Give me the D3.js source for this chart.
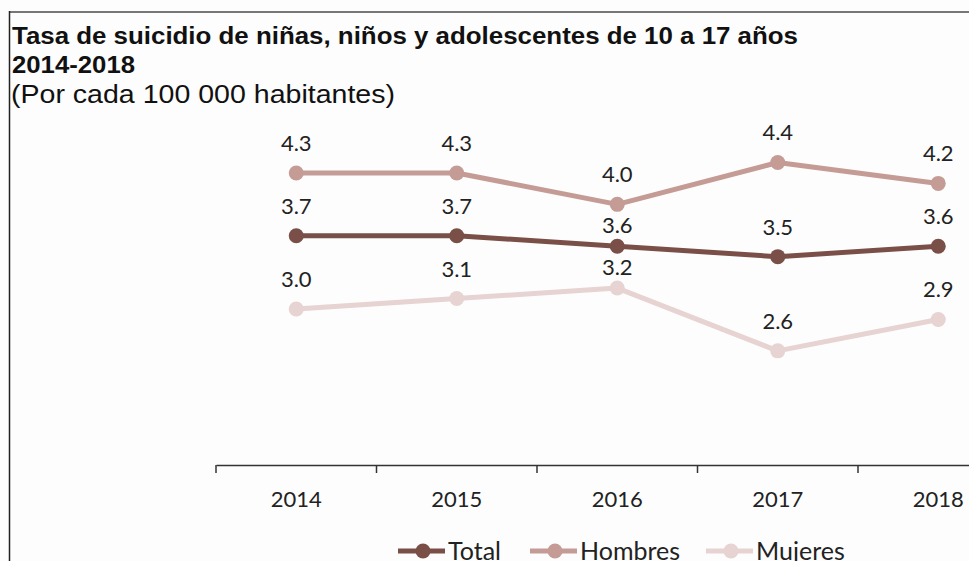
<!DOCTYPE html>
<html>
<head>
<meta charset="utf-8">
<script src="https://cdn.jsdelivr.net/npm/d3@7/dist/d3.min.js"></script>
<style>
  html, body { margin: 0; padding: 0; background: #fdfdfd; overflow: hidden; }
  svg { display: block; }
</style>
</head>
<body>
<script>
// Suicide rate among children and adolescents aged 10-17, per 100 000 inhabitants
const years = ["2014", "2015", "2016", "2017", "2018"];
const seriesNames = ["Total", "Hombres", "Mujeres"];
const totalValues = [3.7, 3.7, 3.6, 3.5, 3.6];
const hombresValues = [4.3, 4.3, 4.0, 4.4, 4.2];
const mujeresValues = [3.0, 3.1, 3.2, 2.6, 2.9];
const seriesColors = ["#7a4f48", "#c49c95", "#e6d3d2"];

const series = [
  { name: seriesNames[1], values: hombresValues, color: seriesColors[1] },
  { name: seriesNames[0], values: totalValues, color: seriesColors[0] },
  { name: seriesNames[2], values: mujeresValues, color: seriesColors[2] }
];

// labels that sit closer to their marker to keep clear of the line above
const nudgedLabels = { "Total|2016": 9, "Mujeres|2016": 9 };

const W = 969, H = 561;
const svg = d3.select("body").append("svg").attr("width", W).attr("height", H);

// frame lines
svg.append("line").attr("x1", 9).attr("x2", W).attr("y1", 12).attr("y2", 12)
  .attr("stroke", "#777").attr("stroke-width", 2);
svg.append("line").attr("x1", 9.5).attr("x2", 9.5).attr("y1", 11).attr("y2", H)
  .attr("stroke", "#222").attr("stroke-width", 1.5);

// titles
const titleFont = "'Liberation Sans', Arial, sans-serif";
svg.append("text").attr("x", 12).attr("y", 43.5)
  .attr("font-family", titleFont).attr("font-weight", "bold").attr("font-size", 23)
  .attr("textLength", 786).attr("lengthAdjust", "spacingAndGlyphs")
  .attr("fill", "#111").text("Tasa de suicidio de niñas, niños y adolescentes de 10 a 17 años");
svg.append("text").attr("x", 12).attr("y", 73)
  .attr("font-family", titleFont).attr("font-weight", "bold").attr("font-size", 23)
  .attr("textLength", 123).attr("lengthAdjust", "spacingAndGlyphs")
  .attr("fill", "#111").text("2014-2018");
svg.append("text").attr("x", 11).attr("y", 102.5)
  .attr("font-family", titleFont).attr("font-size", 26)
  .attr("textLength", 384).attr("lengthAdjust", "spacingAndGlyphs")
  .attr("fill", "#111").text("(Por cada 100 000 habitantes)");

// scales
const x = d3.scaleBand().domain(years).range([216, 216 + 160.5 * years.length]).padding(0);
const y = d3.scaleLinear().domain([1.5, 4.5]).range([466, 152]);
const cx = d => x(d) + x.bandwidth() / 2;

const labelFont = "Lato, 'Open Sans', sans-serif";

// x axis
const axis = svg.append("g").attr("transform", "translate(0,465)")
  .call(d3.axisBottom(x).tickSize(0).tickPadding(26));
axis.select(".domain").attr("stroke", "#333").attr("stroke-width", 1.5);
axis.selectAll(".tick text").attr("font-family", labelFont).attr("font-size", 22).attr("fill", "#222");
// tick marks at category boundaries
svg.append("g").selectAll("line").data(years).join("line")
  .attr("x1", d => x(d)).attr("x2", d => x(d)).attr("y1", 465).attr("y2", 473)
  .attr("stroke", "#333").attr("stroke-width", 1.5);

// lines, markers and value labels
const line = d3.line().x((d, i) => cx(years[i])).y(d => y(d));
const g = svg.append("g");
series.slice().reverse().forEach(s => {
  g.append("path").attr("d", line(s.values)).attr("fill", "none")
    .attr("stroke", s.color).attr("stroke-width", 5).attr("stroke-linejoin", "round");
  g.selectAll(null).data(s.values).join("circle")
    .attr("cx", (d, i) => cx(years[i])).attr("cy", d => y(d)).attr("r", 7.5)
    .attr("fill", s.color);
  g.selectAll(null).data(s.values).join("text")
    .attr("x", (d, i) => cx(years[i]))
    .attr("y", (d, i) => y(d) - 22 + (nudgedLabels[s.name + "|" + years[i]] || 0))
    .attr("text-anchor", "middle").attr("font-family", labelFont).attr("font-size", 22)
    .attr("fill", "#222").text(d => d.toFixed(1));
});

// legend
const legendItems = [
  { name: seriesNames[0], color: seriesColors[0], x: 398 },
  { name: seriesNames[1], color: seriesColors[1], x: 530 },
  { name: seriesNames[2], color: seriesColors[2], x: 706 }
];
const lg = svg.append("g");
legendItems.forEach(it => {
  lg.append("line").attr("x1", it.x).attr("x2", it.x + 47).attr("y1", 551).attr("y2", 551)
    .attr("stroke", it.color).attr("stroke-width", 5);
  lg.append("circle").attr("cx", it.x + 25).attr("cy", 551).attr("r", 7.5).attr("fill", it.color);
  lg.append("text").attr("x", it.x + 50).attr("y", 560)
    .attr("font-family", labelFont).attr("font-size", 25).attr("fill", "#222").text(it.name);
});
</script>
</body>
</html>
